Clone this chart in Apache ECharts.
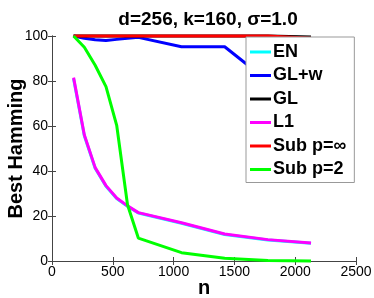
<!DOCTYPE html>
<html><head><meta charset="utf-8">
<script src="https://cdn.jsdelivr.net/npm/echarts@6/dist/echarts.min.js"></script>
<style>html,body{margin:0;padding:0;background:#fff}#c{width:374px;height:298px}</style>
</head><body><div id="c"></div>
<script>
const nValues = [177.5, 266, 355, 444, 532, 621, 710, 1065, 1420, 1775, 2130];
const seriesNames = ['EN', 'GL+w', 'GL', 'L1', 'Sub p=\u221e', 'Sub p=2'];
const enValues   = [81, 55.7, 41.2, 33.2, 27.8, 24.3, 21.3, 16.8, 11.8, 9.3, 7.9];
const glwValues  = [100, 99, 98.3, 98, 98.5, 99, 99.4, 95.2, 95.2, 80, 75];
const glValues   = [100, 100, 100, 100, 100, 100, 100, 100, 100, 100, 99.6];
const l1Values   = [81.5, 56, 41.5, 33.5, 28, 24.5, 21.5, 17, 12, 9.5, 8];
const subInfValues = [100, 100, 100, 100, 100, 100, 100, 100, 100, 100, 99];
const sub2Values = [100, 95, 87, 77.5, 60.3, 25, 10.2, 3.7, 1.2, 0.2, 0];
const xTicks = [0, 500, 1000, 1500, 2000, 2500];
const yTicks = [0, 20, 40, 60, 80, 100];
const colors = ['#00ffff', '#0000ff', '#000000', '#ff00ff', '#ff0000', '#00ff00'];
const allValues = [enValues, glwValues, glValues, l1Values, subInfValues, sub2Values];

const font = 'Liberation Sans, Arial, Helvetica, sans-serif';
const chart = echarts.init(document.getElementById('c'), null, {renderer: 'canvas'});
const axisLine = {show: true, lineStyle: {color: '#444', width: 1}};
const option = {
  animation: false,
  backgroundColor: '#fff',
  title: {
    text: 'd=256, k=160, \u03c3=1.0',
    left: 203, top: 5, textAlign: 'center',
    textStyle: {fontFamily: font, fontWeight: 'bold', fontSize: 19, color: '#000'}
  },
  grid: {left: 52, right: 18, top: 36, bottom: 37, containLabel: false, outerBoundsMode: 'none'},
  legend: {
    orient: 'vertical', left: 246, top: 37,
    padding: [5, 8, 3, 4],
    itemWidth: 21, itemHeight: 3, itemGap: 3.5,
    icon: 'rect',
    backgroundColor: '#fff', borderColor: '#999', borderWidth: 1,
    textStyle: {fontFamily: font, fontWeight: 'bold', fontSize: 18, color: '#000', lineHeight: 20, padding: [0, 0, 0, -3]},
    data: seriesNames
  },
  xAxis: [{
    type: 'value', min: xTicks[0], max: xTicks[xTicks.length - 1], interval: 500,
    name: 'n', nameLocation: 'middle', nameGap: 17, nameMoveOverlap: false,
    nameTextStyle: {fontFamily: font, fontWeight: 'bold', fontSize: 20, color: '#000'},
    axisLine: axisLine,
    axisTick: {show: true, inside: true, length: 4, lineStyle: {color: '#444'}},
    axisLabel: {fontFamily: font, fontSize: 14, color: '#000', margin: 4, formatter: v => String(v)},
    splitLine: {show: false}
  }, {
    type: 'value', position: 'top', min: 0, max: 2500, interval: 500,
    axisLine: axisLine,
    axisTick: {show: true, inside: true, length: 4, lineStyle: {color: '#444'}},
    axisLabel: {show: false}, splitLine: {show: false}
  }],
  yAxis: [{
    type: 'value', min: yTicks[0], max: yTicks[yTicks.length - 1], interval: 20,
    name: 'Best Hamming', nameLocation: 'middle', nameGap: 26, nameMoveOverlap: false,
    nameTextStyle: {fontFamily: font, fontWeight: 'bold', fontSize: 20, color: '#000'},
    axisLine: axisLine,
    axisTick: {show: true, inside: true, length: 4, lineStyle: {color: '#444'}},
    axisLabel: {fontFamily: font, fontSize: 14, color: '#000', margin: 4},
    splitLine: {show: false}
  }, {
    type: 'value', position: 'right', min: 0, max: 100, interval: 20,
    axisLine: axisLine,
    axisTick: {show: true, inside: true, length: 4, lineStyle: {color: '#444'}},
    axisLabel: {show: false}, splitLine: {show: false}
  }],
  series: seriesNames.map((name, i) => ({
    name: name, type: 'line',
    data: nValues.map((n, j) => [n, allValues[i][j]]),
    showSymbol: false, symbol: 'none',
    lineStyle: {color: colors[i], width: 3},
    itemStyle: {color: colors[i]},
    clip: false
  }))
};
chart.setOption(option);
</script></body></html>
